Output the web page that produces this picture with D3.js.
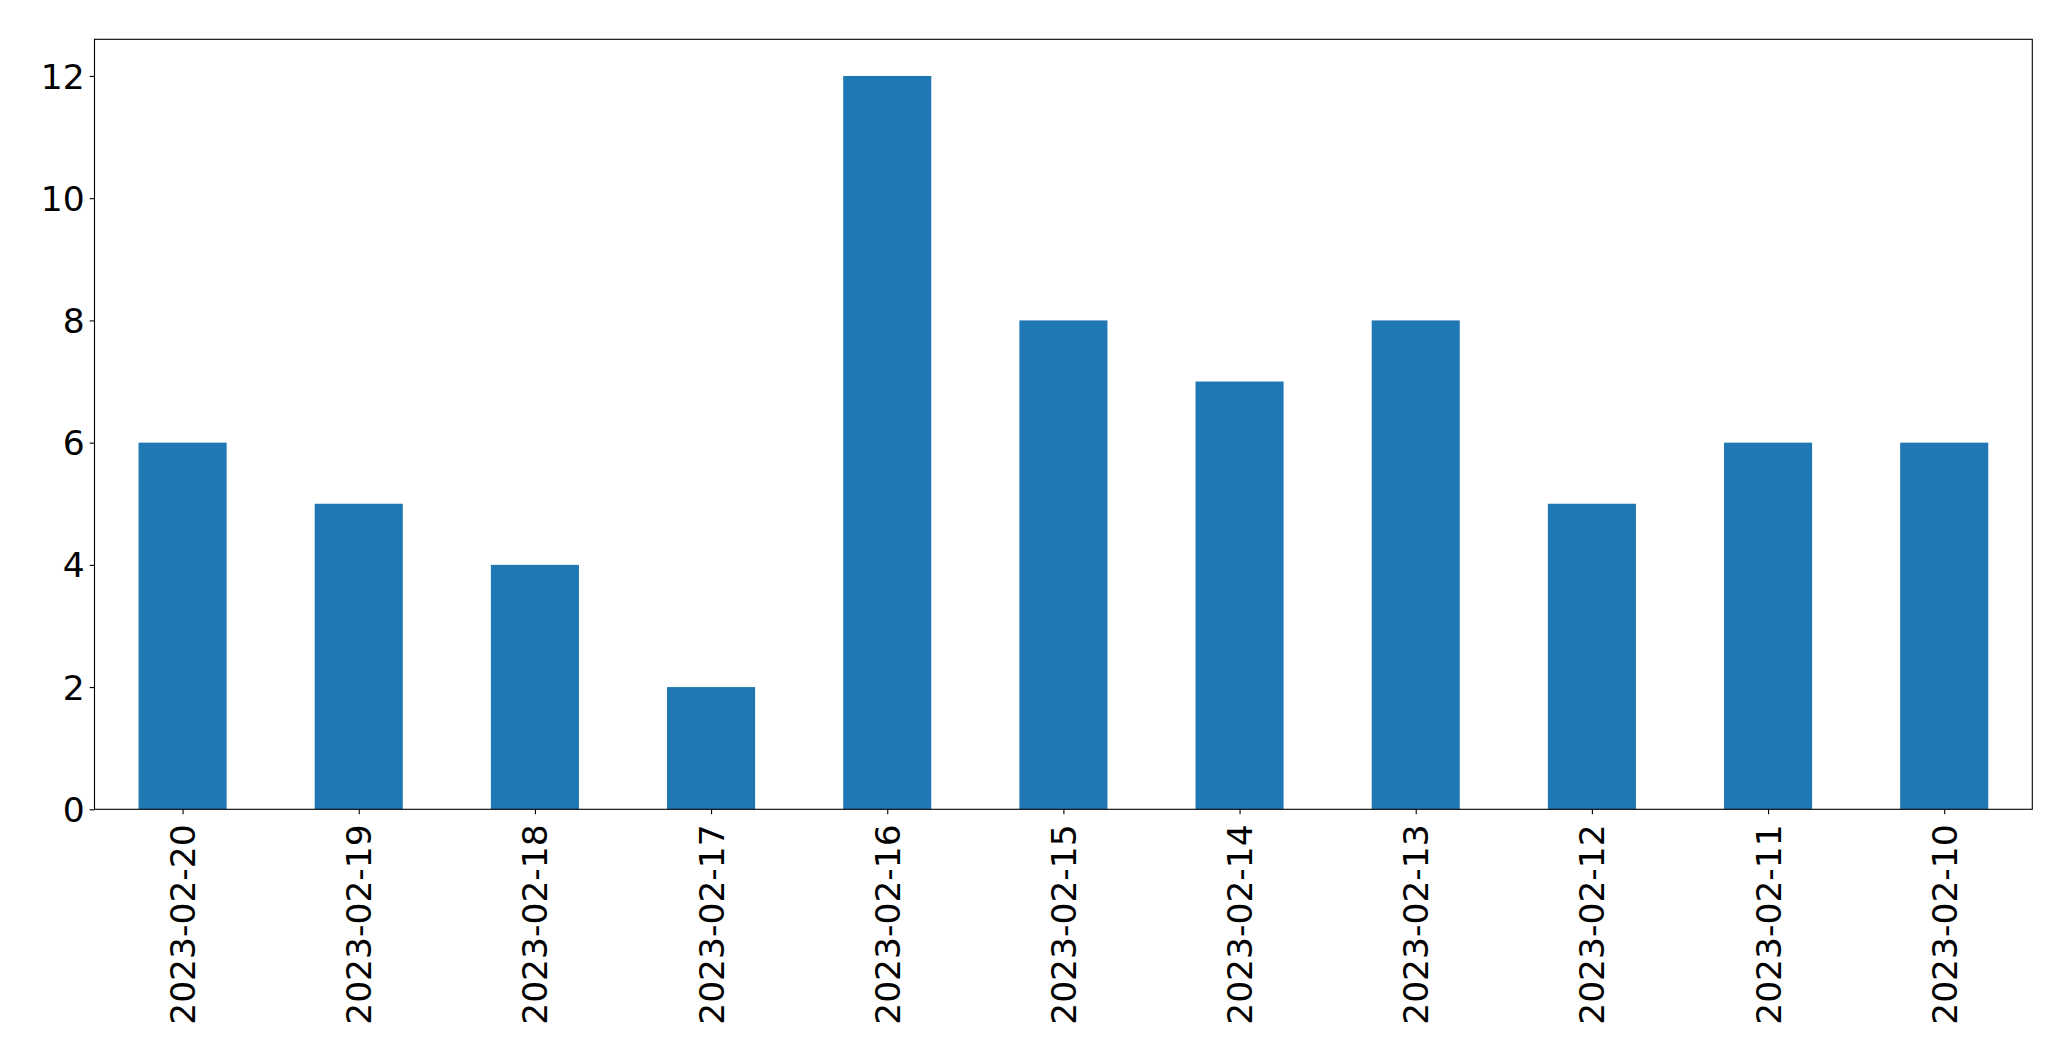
<!DOCTYPE html>
<html><head><meta charset="utf-8">
<script src="https://cdn.jsdelivr.net/npm/d3@7"></script>
<style>body{margin:0;background:#fff}svg{display:block}</style>
</head><body>
<svg id="c" width="2071" height="1061"></svg>
<script>
const categories = ["2023-02-20","2023-02-19","2023-02-18","2023-02-17","2023-02-16","2023-02-15","2023-02-14","2023-02-13","2023-02-12","2023-02-11","2023-02-10"];
const values = [6,5,4,2,12,8,7,8,5,6,6];
const yTicks = [0,2,4,6,8,10,12];

const L = 94.5, R = 2032.3, T = 39.3, B = 809.3;
const svg = d3.select("#c");
const font = "DejaVu Sans, sans-serif";
const fs = 34.5;

const x = d3.scaleLinear().domain([-0.5, categories.length - 0.5]).range([L, R]);
const y = d3.scaleLinear().domain([0, 12.6]).range([B, T]);
const bw = x(0.25) - x(-0.25);

svg.append("g").selectAll("rect").data(values).join("rect")
  .attr("x", (d,i) => x(i) - bw/2).attr("width", bw)
  .attr("y", d => y(d)).attr("height", d => y(0) - y(d))
  .attr("fill", "#1f77b4");

const yAxis = d3.axisLeft(y).tickValues(yTicks).tickFormat(d3.format("d")).tickSize(4.9).tickPadding(4.9);
const gy = svg.append("g").attr("transform", `translate(${L},0)`).call(yAxis);
gy.select(".domain").remove();
gy.selectAll("line").attr("stroke", "#000").attr("stroke-width", 1.1);
gy.selectAll("text").attr("font-family", font).attr("font-size", fs).attr("fill", "#000").attr("dy", "0.35em");

const xAxis = d3.axisBottom(x).tickValues(d3.range(categories.length)).tickFormat(i => categories[i]).tickSize(4.9).tickPadding(0);
const gx = svg.append("g").attr("transform", `translate(0,${B})`).call(xAxis);
gx.select(".domain").remove();
gx.selectAll("line").attr("stroke", "#000").attr("stroke-width", 1.1);
gx.selectAll("text").attr("font-family", font).attr("font-size", fs).attr("fill", "#000")
  .attr("y", 0).attr("dy", "0.35em")
  .attr("text-anchor", "end")
  .attr("transform", "translate(0,15) rotate(-90)")
  .attr("x", -0);

svg.append("rect").attr("x", L).attr("y", T).attr("width", R - L).attr("height", B - T)
  .attr("fill", "none").attr("stroke", "#000").attr("stroke-width", 1.1);
</script>
</body></html>
